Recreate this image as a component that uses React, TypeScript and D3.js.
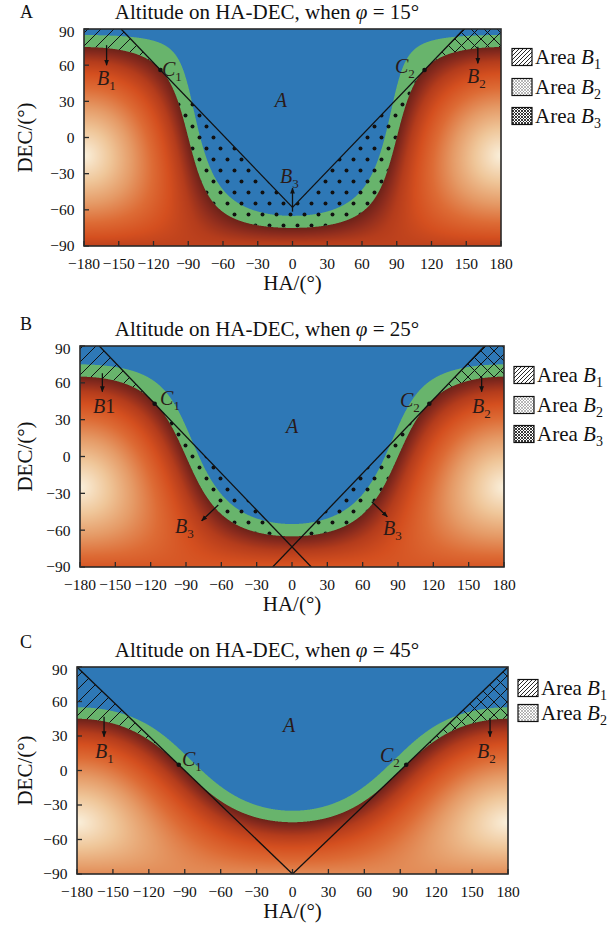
import React, { useMemo } from 'react';
import * as d3 from 'd3';

// ---------------- data ----------------
const PHI = [15, 25, 45];
const PANEL_LETTERS = ['A', 'B', 'C'];
const V_CROSS_DEC = [-58, -73.6, -90]; // DEC where the two guide lines meet at HA = 0
const V_EXTENDS = [false, true, true]; // guide lines continue down to DEC = -90
const TANGENT_DEC = [56, 43, 5]; // DEC of points C1 / C2
const GREEN_BAND_ALT = 10; // altitude (deg) of the upper edge of the green band
const HA_TICKS = d3.range(-180, 181, 30);
const DEC_TICKS = d3.range(-90, 91, 30);
const LEGEND_SUBS = [['1', '2', '3'], ['1', '2', '3'], ['1', '2']];
const NIGHT_ALT = [0, -5, -12, -22, -34, -50, -68, -90];
const NIGHT_COLORS = ['#6c2219', '#8a2b1d', '#b43c1c', '#d44f1f', '#dd6b35', '#e59a66', '#efc699', '#faf0dc'];
const BLUE = '#2e78b6';
const GREEN = '#68b46c';

type Label = { t: string; s: string; h: number; d: number; mid?: boolean; inline?: boolean };
const LABELS_A: Label[] = [
  { t: 'A', s: '', h: -10, d: 25.3, mid: true },
  { t: 'B', s: '1', h: -168.8, d: 43.5 },
  { t: 'C', s: '1', h: -112.7, d: 51 },
  { t: 'C', s: '2', h: 88.5, d: 53.5 },
  { t: 'B', s: '2', h: 150.7, d: 45.2 },
  { t: 'B', s: '3', h: -10.8, d: -37.7 },
];
const LABELS_B: Label[] = [
  { t: 'A', s: '', h: 0, d: 19.1, mid: true },
  { t: 'B', s: '1', h: -169, d: 35.4, inline: true },
  { t: 'C', s: '1', h: -112, d: 42 },
  { t: 'C', s: '2', h: 91.7, d: 40.3 },
  { t: 'B', s: '2', h: 152.8, d: 35.4 },
  { t: 'B', s: '3', h: -99.3, d: -62.3 },
  { t: 'B', s: '3', h: 77.3, d: -63.9 },
];
const LABELS_C: Label[] = [
  { t: 'A', s: '', h: -2.9, d: 33.5, mid: true },
  { t: 'B', s: '1', h: -165, d: 10.9 },
  { t: 'C', s: '1', h: -92.3, d: 3.9 },
  { t: 'C', s: '2', h: 73.1, d: 7.4 },
  { t: 'B', s: '2', h: 154.1, d: 10.9 },
];
const LABELS = [LABELS_A, LABELS_B, LABELS_C];

// arrows: [HA start, DEC start, HA end, DEC end]
const ARROWS_A = [[-160.5, 76.6, -160.5, 60], [160, 75.3, 160, 61.5], [0, -61.5, 0, -42]];
const ARROWS_B = [[-161, 67.8, -161, 52.8], [161, 65, 161, 52.8], [-62.6, -39.5, -76.7, -52.3], [67.7, -36.8, 80.9, -49]];
const ARROWS_C = [[-157.4, 46.8, -157.4, 29.4], [165, 45.7, 165, 29.4]];
const ARROWS = [ARROWS_A, ARROWS_B, ARROWS_C];

// ---------------- layout ----------------
type Frame = { x0: number; x1: number; y0: number; y1: number; titleY: number; letterY: number; legX: number; legY: number[] };
const FRAMES: Frame[] = [
  { x0: 84, x1: 501, y0: 29, y1: 246, titleY: 19, letterY: 18, legX: 512, legY: [57, 87, 116] },
  { x0: 80, x1: 504, y0: 346, y1: 567, titleY: 336, letterY: 330, legX: 514, legY: [375, 405, 434] },
  { x0: 77, x1: 508, y0: 667, y1: 874, titleY: 657, letterY: 648, legX: 518, legY: [688, 713] },
];
const FONT = '"Liberation Serif", "Times New Roman", serif';
const RAD = Math.PI / 180;

const fmt = (v: number) => (v < 0 ? '\u2212' : '') + Math.abs(v);

function horizonDec(phi: number, H: number) {
  return Math.atan(-Math.cos(H * RAD) / Math.tan(phi * RAD)) / RAD;
}

function fieldURL(phi: number, fr: Frame): string {
  const w = fr.x1 - fr.x0;
  const h = fr.y1 - fr.y0;
  const xs = d3.scaleLinear().domain([-180, 180]).range([fr.x0, fr.x1]);
  const ys = d3.scaleLinear().domain([-90, 90]).range([fr.y1, fr.y0]);
  const cv = document.createElement('canvas');
  cv.width = w;
  cv.height = h;
  const ctx = cv.getContext('2d');
  if (!ctx) return '';
  const img = ctx.createImageData(w, h);
  const sp = Math.sin(phi * RAD);
  const cp = Math.cos(phi * RAD);
  const night = d3.scaleLinear<string>().domain(NIGHT_ALT).range(NIGHT_COLORS).interpolate(d3.interpolateRgb).clamp(true);
  const lut: number[][] = [];
  for (let k = 0; k <= 900; k++) {
    const c = d3.rgb(night(-k / 10));
    lut.push([c.r, c.g, c.b]);
  }
  const bc = d3.rgb(BLUE);
  const gc = d3.rgb(GREEN);
  const blue = [bc.r, bc.g, bc.b];
  const green = [gc.r, gc.g, gc.b];
  const S = 3;
  const n = S * S;
  for (let py = 0; py < h; py++) {
    for (let px = 0; px < w; px++) {
      let r = 0, g = 0, b = 0;
      for (let sy = 0; sy < S; sy++) {
        const dec = ys.invert(fr.y0 + py + (sy + 0.5) / S) * RAD;
        const sd = Math.sin(dec);
        const cd = Math.cos(dec);
        for (let sx = 0; sx < S; sx++) {
          const ha = xs.invert(fr.x0 + px + (sx + 0.5) / S) * RAD;
          const v = Math.max(-1, Math.min(1, sp * sd + cp * cd * Math.cos(ha)));
          const alt = Math.asin(v) / RAD;
          let c: number[];
          if (alt >= GREEN_BAND_ALT) c = blue;
          else if (alt >= 0) c = green;
          else c = lut[Math.min(900, Math.round(-alt * 10))];
          r += c[0]; g += c[1]; b += c[2];
        }
      }
      const o = (py * w + px) * 4;
      img.data[o] = r / n;
      img.data[o + 1] = g / n;
      img.data[o + 2] = b / n;
      img.data[o + 3] = 255;
    }
  }
  ctx.putImageData(img, 0, 0);
  return cv.toDataURL();
}

function SubText({ lab, x, y }: { lab: Label; x: number; y: number }) {
  if (lab.inline) {
    return (
      <text x={x} y={y} fontSize={20} fill="#2a1a18">
        <tspan fontStyle="italic">{lab.t}</tspan>
        <tspan>{lab.s}</tspan>
      </text>
    );
  }
  return (
    <text x={x} y={y} fontSize={20} fill="#2a1a18" textAnchor={lab.mid ? 'middle' : 'start'}>
      <tspan fontStyle="italic">{lab.t}</tspan>
      {lab.s ? (
        <tspan fontSize={13} dy={5}>
          {lab.s}
        </tspan>
      ) : null}
    </text>
  );
}

function Panel({ i, url }: { i: number; url: string }) {
  const fr = FRAMES[i];
  const phi = PHI[i];
  const c = V_CROSS_DEC[i];
  const dC = TANGENT_DEC[i];
  const xs = d3.scaleLinear().domain([-180, 180]).range([fr.x0, fr.x1]);
  const ys = d3.scaleLinear().domain([-90, 90]).range([fr.y1, fr.y0]);
  const line = d3
    .line<number[]>()
    .x((p) => xs(p[0]))
    .y((p) => ys(p[1]));
  const hzPts: number[][] = d3.range(-180, 180.001, 0.5).map((H) => [H, horizonDec(phi, H)]);
  const horizon = line([...hzPts, [180, 90], [-180, 90]]) + 'Z';
  const upperL = line([[-180, 90], [c - 90, 90], [c - dC, dC], [-180, dC]]) + 'Z';
  const upperR = line([[180, 90], [90 - c, 90], [dC - c, dC], [180, dC]]) + 'Z';
  const lower = line([[-180, dC], [c - dC, dC], [0, c], [dC - c, dC], [180, dC], [180, -90], [-180, -90]]) + 'Z';
  const endL = V_EXTENDS[i] ? [c + 90, -90] : [0, c];
  const endR = V_EXTENDS[i] ? [-(c + 90), -90] : [0, c];
  const leftLine = line([[c - 90, 90], endL]);
  const rightLine = line([[90 - c, 90], endR]);
  const w = fr.x1 - fr.x0;
  const h = fr.y1 - fr.y0;
  const cx = (fr.x0 + fr.x1) / 2;
  const cy = (fr.y0 + fr.y1) / 2;
  const legFills = ['url(#legHatch)', 'url(#legCrossLight)', 'url(#legCrossDark)'];

  return (
    <g>
      <defs>
        <clipPath id={`hz${i}`}>
          <path d={horizon} />
        </clipPath>
        <clipPath id={`ul${i}`}>
          <path d={upperL} />
        </clipPath>
        <clipPath id={`ur${i}`}>
          <path d={upperR} />
        </clipPath>
        <clipPath id={`lo${i}`}>
          <path d={lower} />
        </clipPath>
        <clipPath id={`fr${i}`}>
          <rect x={fr.x0} y={fr.y0} width={w} height={h} />
        </clipPath>
      </defs>
      <text x={20} y={fr.letterY} fontSize={18}>
        {PANEL_LETTERS[i]}
      </text>
      <text x={267} y={fr.titleY} fontSize={21} textAnchor="middle">
        Altitude on HA-DEC, when <tspan fontStyle="italic">φ</tspan> = {phi}°
      </text>
      {url ? <image href={url} x={fr.x0} y={fr.y0} width={w} height={h} preserveAspectRatio="none" /> : null}
      <g clipPath={`url(#hz${i})`}>
        <g clipPath={`url(#ul${i})`}>
          <rect x={fr.x0} y={fr.y0} width={w} height={h} fill="url(#hatchPlot)" />
        </g>
        <g clipPath={`url(#ur${i})`}>
          <rect x={fr.x0} y={fr.y0} width={w} height={h} fill="url(#crossPlot)" />
        </g>
        <g clipPath={`url(#lo${i})`}>
          <rect x={fr.x0} y={fr.y0} width={w} height={h} fill="url(#dots)" />
        </g>
      </g>
      <g clipPath={`url(#fr${i})`}>
        <path d={leftLine || ''} stroke="#111" strokeWidth={1.3} fill="none" />
        <path d={rightLine || ''} stroke="#111" strokeWidth={1.3} fill="none" />
        <circle cx={xs(c - dC)} cy={ys(dC)} r={2.3} fill="#111" />
        <circle cx={xs(dC - c)} cy={ys(dC)} r={2.3} fill="#111" />
        {ARROWS[i].map((a, k) => (
          <line
            key={k}
            x1={xs(a[0])}
            y1={ys(a[1])}
            x2={xs(a[2])}
            y2={ys(a[3])}
            stroke="#111"
            strokeWidth={1.3}
            markerEnd="url(#arrowHead)"
          />
        ))}
        {LABELS[i].map((lab, k) => (
          <SubText key={k} lab={lab} x={xs(lab.h)} y={ys(lab.d)} />
        ))}
      </g>
      {/* frame */}
      <rect x={fr.x0} y={fr.y0} width={w} height={h} fill="none" stroke="#2a2a2a" strokeWidth={1.6} />
      {HA_TICKS.map((t) => (
        <g key={`x${t}`}>
          <line x1={xs(t)} x2={xs(t)} y1={fr.y1} y2={fr.y1 - 5} stroke="#2a2a2a" strokeWidth={1.3} />
          <text x={xs(t)} y={fr.y1 + 22.5} fontSize={15.5} textAnchor="middle">
            {fmt(t)}
          </text>
        </g>
      ))}
      {DEC_TICKS.map((t) => (
        <g key={`y${t}`}>
          <line x1={fr.x0} x2={fr.x0 + 5} y1={ys(t)} y2={ys(t)} stroke="#2a2a2a" strokeWidth={1.3} />
          <text x={fr.x0 - 9.5} y={ys(t) + (t === 90 ? 3 : 0)} dy="0.35em" fontSize={15.5} textAnchor="end">
            {fmt(t)}
          </text>
        </g>
      ))}
      <text x={cx} y={fr.y1 + 43.5} fontSize={21} textAnchor="middle">
        HA/(°)
      </text>
      <text transform={`translate(32,${cy}) rotate(-90)`} fontSize={21} textAnchor="middle">
        DEC/(°)
      </text>
      {LEGEND_SUBS[i].map((s, k) => (
        <g key={`l${k}`}>
          <rect x={fr.legX} y={fr.legY[k] - 8.5} width={20} height={17} fill="#fff" />
          <rect x={fr.legX} y={fr.legY[k] - 8.5} width={20} height={17} fill={legFills[k]} stroke="#111" strokeWidth={1.2} />
          <text x={fr.legX + 23} y={fr.legY[k] + 7} fontSize={21}>
            Area <tspan fontStyle="italic">B</tspan>
            <tspan fontSize={14} dy={5}>
              {s}
            </tspan>
          </text>
        </g>
      ))}
    </g>
  );
}

export default function App() {
  const urls = useMemo(() => {
    if (typeof document === 'undefined') return ['', '', ''];
    return PHI.map((p, i) => fieldURL(p, FRAMES[i]));
  }, []);
  return (
    <svg
      width={616}
      height={929}
      viewBox="0 0 616 929"
      style={{ position: 'absolute', left: 0, top: 0, display: 'block', background: '#fff' }}
      fontFamily={FONT}
      fill="#111"
    >
      <defs>
        <pattern id="hatchPlot" patternUnits="userSpaceOnUse" width={13} height={13}>
          <path d="M0,13 L13,0 M-3,3 L3,-3 M10,16 L16,10" stroke="#111" strokeWidth={1} />
        </pattern>
        <pattern id="crossPlot" patternUnits="userSpaceOnUse" width={13} height={13}>
          <path d="M0,13 L13,0 M-3,3 L3,-3 M10,16 L16,10 M0,0 L13,13 M-3,10 L3,16 M10,-3 L16,3" stroke="#111" strokeWidth={1} />
        </pattern>
        <pattern id="dots" patternUnits="userSpaceOnUse" width={14} height={22}>
          <circle cx={3.5} cy={5.5} r={2} fill="#111" />
          <circle cx={10.5} cy={16.5} r={2} fill="#111" />
        </pattern>
        <pattern id="legHatch" patternUnits="userSpaceOnUse" width={4} height={4}>
          <path d="M0,4 L4,0 M-1,1 L1,-1 M3,5 L5,3" stroke="#111" strokeWidth={0.9} />
        </pattern>
        <pattern id="legCrossLight" patternUnits="userSpaceOnUse" width={3} height={3}>
          <path d="M0,3 L3,0 M0,0 L3,3" stroke="#8a8a8a" strokeWidth={0.6} />
        </pattern>
        <pattern id="legCrossDark" patternUnits="userSpaceOnUse" width={3} height={3}>
          <path d="M0,3 L3,0 M0,0 L3,3" stroke="#222" strokeWidth={0.9} />
        </pattern>
        <marker id="arrowHead" viewBox="0 0 10 10" refX={9} refY={5} markerWidth={6} markerHeight={6} markerUnits="userSpaceOnUse" orient="auto">
          <path d="M0,1 L10,5 L0,9 Z" fill="#111" />
        </marker>
      </defs>
      {PHI.map((p, i) => (
        <Panel key={i} i={i} url={urls[i]} />
      ))}
    </svg>
  );
}
